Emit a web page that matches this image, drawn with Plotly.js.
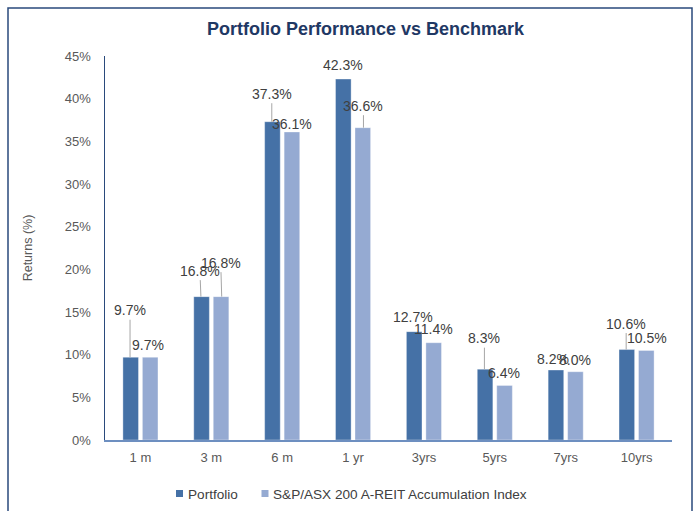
<!DOCTYPE html>
<html>
<head>
<meta charset="utf-8">
<script src="https://cdn.plot.ly/plotly-3.0.1.min.js"></script>
<style>
html,body{margin:0;padding:0;background:#fff;}
#chart{width:696px;height:511px;}
</style>
</head>
<body>
<div id="chart"></div>
<script>
// ---- data ----
const categories = ["1 m", "3 m", "6 m", "1 yr", "3yrs", "5yrs", "7yrs", "10yrs"];
const portfolio  = [9.7, 16.8, 37.3, 42.3, 12.7, 8.3, 8.2, 10.6];
const benchmark  = [9.7, 16.8, 36.1, 36.6, 11.4, 6.4, 8.0, 10.5];
const seriesNames = ["Portfolio", "S&P/ASX 200 A-REIT Accumulation Index"];
const yTickVals = [0, 5, 10, 15, 20, 25, 30, 35, 40, 45];
const yTickText = ["0%", "5%", "10%", "15%", "20%", "25%", "30%", "35%", "40%", "45%"];

// ---- style / label placement (pixel offsets of labels from bar tops) ----
const colors = ["#4571a6", "#95aad2"];
const seriesShift = [-10.4, 10.4];
const labelOffsets = [
  // [ax, ay, leaderLine]
  [[0,-47,true],[-1,-26,true],[0,-28,true],[0,-14,false],[-1,-15,false],[0,-31,true],[-2,-11,false],[0,-26,true]],
  [[-3,-12,false],[-1,-34,true],[-1,-8,false],[0,-22,true],[-1,-14,false],[-1,-12,false],[-1,-12,false],[0,-12,false]]
];

const series = [portfolio, benchmark];
const traces = series.map((vals, i) => ({
  type: "bar",
  x: categories,
  y: vals,
  name: seriesNames[i],
  marker: {color: colors[i], line: {color: "rgba(255,255,255,0.35)", width: 1}},
  hoverinfo: "x+y"
}));

const annotations = [];
series.forEach((vals, i) => {
  vals.forEach((v, j) => {
    const o = labelOffsets[i][j];
    annotations.push({
      x: categories[j], y: v, xref: "x", yref: "y",
      xshift: seriesShift[i],
      text: v.toFixed(1) + "%",
      showarrow: true, arrowhead: 0, arrowwidth: 1,
      arrowcolor: o[2] ? "#a6a6a6" : "rgba(0,0,0,0)",
      ax: o[0], ay: o[1],
      font: {family: "Liberation Sans, Arial, sans-serif", size: 14, color: "#404040"}
    });
  });
});

// custom legend
const legendX = [0.1252, 0.2760];
seriesNames.forEach((n, i) => {
  annotations.push({
    xref: "paper", yref: "paper", x: legendX[i] + 0.0176, y: -0.1418,
    xanchor: "left", yanchor: "middle", showarrow: false,
    text: n,
    font: {family: "Liberation Sans, Arial, sans-serif", size: 13.6, color: "#404040"}
  });
});

// title
annotations.push({
  xref: "paper", yref: "paper", x: (366 - 105) / 567, y: (440 - 28.5) / 384,
  xanchor: "center", yanchor: "middle", showarrow: false,
  text: "<b>Portfolio Performance vs Benchmark</b>",
  font: {family: "Liberation Sans, Arial, sans-serif", size: 18, color: "#1f3864"}
});

const shapes = [
  // outer frame
  {type: "rect", xref: "paper", yref: "paper",
   x0: (8 - 105) / 567, x1: (692 - 105) / 567, y0: (440 - 530) / 384, y1: (440 - 8) / 384,
   line: {color: "#2a4a7c", width: 1.5}, fillcolor: "rgba(0,0,0,0)", layer: "below"}
];
seriesNames.forEach((n, i) => {
  shapes.push({type: "rect", xref: "paper", yref: "paper",
    x0: legendX[i], x1: legendX[i] + 7 / 567,
    y0: (440 - 497) / 384, y1: (440 - 490) / 384,
    line: {width: 0}, fillcolor: colors[i]});
});

const layout = {
  width: 696, height: 511,
  margin: {l: 105, r: 24, t: 56, b: 71, pad: 0},
  paper_bgcolor: "#ffffff", plot_bgcolor: "#ffffff",
  font: {family: "Liberation Sans, Arial, sans-serif", size: 13, color: "#595959"},
  barmode: "group", bargap: 0.45, bargroupgap: 0.2,
  showlegend: false,
  xaxis: {
    type: "category", showgrid: false, zeroline: false,
    showline: true, linecolor: "#6d8fc0", linewidth: 1.5,
    ticks: "", tickfont: {size: 13, color: "#595959"},
    ticklabelstandoff: 5
  },
  yaxis: {
    range: [0, 45], tickvals: yTickVals, ticktext: yTickText,
    showgrid: false, zeroline: false,
    showline: true, linecolor: "#2a4a7c", linewidth: 1.5,
    ticks: "", tickfont: {size: 13, color: "#595959"},
    ticklabelstandoff: 10,
    title: {text: "Returns (%)", font: {size: 12.5, color: "#595959"}, standoff: 29}
  },
  annotations: annotations,
  shapes: shapes
};

Plotly.newPlot("chart", traces, layout, {displayModeBar: false, staticPlot: true});
</script>
</body>
</html>
